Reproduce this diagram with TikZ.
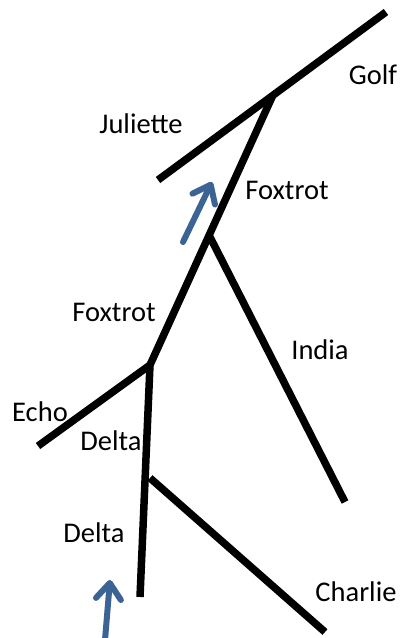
\documentclass[tikz,border=0pt]{standalone}
\usepackage{fontspec}
\setmainfont{Carlito}
\usetikzlibrary{arrows.meta}
\definecolor{arrowblue}{HTML}{3B6394}
\begin{document}
\begin{tikzpicture}[x=1pt,y=-1pt,
  branch/.style={line width=7.5pt},
  flow/.style={line width=6pt, arrowblue, line cap=round, -{Straight Barb[length=16pt,width=25pt,line width=6pt,round]}},
  lbl/.style={font=\fontsize{28.5}{32}\selectfont, inner sep=0pt}]
\useasboundingbox (0,0) rectangle (401,638);
% coordinates
\coordinate (gEnd) at (386,12);
\coordinate (jEnd) at (158,180);
\coordinate (jTop) at (273,95);
\coordinate (jMid) at (210,237);
\coordinate (iEnd) at (345,502);
\coordinate (jLow) at (150,365);
\coordinate (eEnd) at (38,446);
\coordinate (dEnd) at (140,597);
\coordinate (jBot) at (150,478);
\coordinate (cEnd) at (325,632);
\coordinate (a1s) at (183,242);
\coordinate (a1e) at (212,182);
\coordinate (a2s) at (105,640);
\coordinate (a2e) at (110,580);
% lines
\draw[branch] (jEnd) -- (gEnd);
\draw[branch] (jTop) -- (jLow);
\draw[branch] (jMid) -- (iEnd);
\draw[branch] (eEnd) -- (jLow);
\draw[branch] (jLow) -- (dEnd);
\draw[branch] (jBot) -- (cEnd);
% arrows
\draw[flow] (a1s) -- (a1e);
\draw[flow] (a2s) -- (a2e);
% labels
\node[lbl] (golf) at (373,75) {Golf};
\node[lbl] (juliette) at (141,124) {Juliette};
\node[lbl] (fox1) at (287,190) {Foxtrot};
\node[lbl] (fox2) at (114,312) {Foxtrot};
\node[lbl] (india) at (320,350) {India};
\node[lbl] (echo) at (40,412) {Echo};
\node[lbl] (delta1) at (111,441) {Delta};
\node[lbl] (delta2) at (94,533) {Delta};
\node[lbl] (charlie) at (356,592) {Charlie};
\end{tikzpicture}
\end{document}
